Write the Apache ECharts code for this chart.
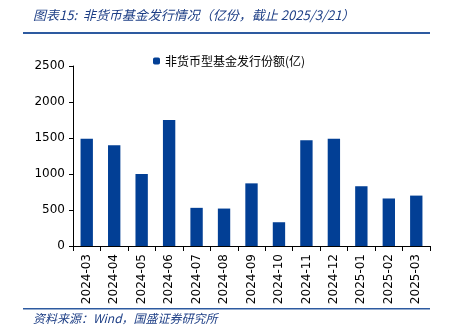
<!DOCTYPE html>
<html><head><meta charset="utf-8">
<script src="https://cdn.jsdelivr.net/npm/echarts@6/dist/echarts.min.js"></script>
<style>html,body{margin:0;padding:0;background:#fff}#c{width:452px;height:332px}</style>
</head><body><div id="c"></div>
<script>
const categories = ['2024-03','2024-04','2024-05','2024-06','2024-07','2024-08','2024-09','2024-10','2024-11','2024-12','2025-01','2025-02','2025-03'];
const issuance = [1490, 1400, 1000, 1750, 530, 520, 870, 330, 1470, 1490, 830, 660, 700];
const seriesName = '非货币型基金发行份额(亿)';
const titleText = '图表15:  非货币基金发行情况（亿份，截止 2025/3/21）';
const sourceText = '资料来源：Wind，国盛证券研究所';

const chart = echarts.init(document.getElementById('c'));
chart.setOption({
  animation: false,
  backgroundColor: '#fff',
  grid: {left: 73, right: 22, top: 66, bottom: 86},
  legend: {
    data: [seriesName], top: 50, left: 148,
    itemWidth: 7, itemHeight: 7, itemGap: 4,
    textStyle: {fontSize: 12, color: '#000', fontFamily: 'Noto Sans CJK SC'}
  },
  xAxis: {
    type: 'category', data: categories,
    axisLine: {lineStyle: {color: '#000', width: 1}},
    axisTick: {show: true, interval: 0, length: 5, lineStyle: {color: '#000'}},
    axisLabel: {rotate: 90, interval: 0, fontSize: 12, color: '#000', fontFamily: 'DejaVu Sans', margin: 8}
  },
  yAxis: {
    type: 'value', min: 0, max: 2500, interval: 500,
    splitLine: {show: false},
    axisLine: {show: true, lineStyle: {color: '#000', width: 1}},
    axisTick: {show: true, length: 4, lineStyle: {color: '#000'}},
    axisLabel: {fontSize: 12, color: '#000', fontFamily: 'DejaVu Sans', margin: 8, formatter: v => String(v)}
  },
  series: [{
    name: seriesName, type: 'bar', data: issuance, barWidth: '45%',
    itemStyle: {color: '#023f95'}
  }],
  graphic: [
    {type: 'text', left: 33, top: 9, style: {text: titleText, fontSize: 13, fontStyle: 'italic', fill: '#1e3f86', fontFamily: 'Noto Sans CJK SC'}},
    {type: 'rect', shape: {x: 23, y: 32, width: 407, height: 2}, style: {fill: '#2d5aa0'}},
    {type: 'rect', shape: {x: 23, y: 308, width: 407, height: 1.5}, style: {fill: '#2d5aa0'}},
    {type: 'text', left: 33, top: 312, style: {text: sourceText, fontSize: 12, fontStyle: 'italic', fill: '#1e3f86', fontFamily: 'Noto Sans CJK SC'}}
  ]
});
</script></body></html>
